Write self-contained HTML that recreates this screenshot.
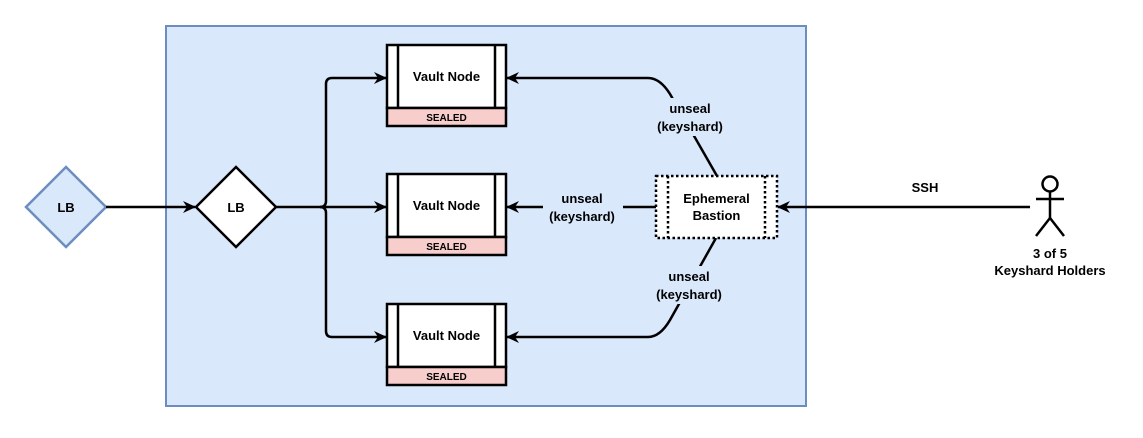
<!DOCTYPE html>
<html><head><style>
body{margin:0;background:#fff}
svg text{font-family:"Liberation Sans",Arial,sans-serif;font-weight:bold;fill:#000}
</style></head><body>
<svg width="1143" height="433" viewBox="0 0 1143 433" xmlns="http://www.w3.org/2000/svg">
<defs>
<marker id="a" markerWidth="14" markerHeight="14" refX="12" refY="6" orient="auto" markerUnits="userSpaceOnUse">
<path d="M0,0 L13,6 L0,12 L4,6 Z" fill="#000"/></marker>
</defs>
<rect x="166" y="26" width="640" height="380" fill="#dae8fc" stroke="#6c8ebf" stroke-width="2"/>
<polygon points="66,167 106,207 66,247 26,207" fill="#dae8fc" stroke="#6c8ebf" stroke-width="2.5"/>
<text x="66" y="212" font-size="13" text-anchor="middle">LB</text>
<line x1="106" y1="207" x2="195" y2="207" stroke="#000" stroke-width="2.5" marker-end="url(#a)"/>
<polygon points="236,167 276,207 236,247 196,207" fill="#fff" stroke="#000" stroke-width="2.5"/>
<text x="236" y="212" font-size="13" text-anchor="middle">LB</text>
<g fill="none" stroke="#000" stroke-width="2.5">
<path d="M276,207 L320,207 Q326,207 326,201 L326,84 Q326,78 332,78 L386,78" marker-end="url(#a)"/>
<path d="M320,207 L386,207" marker-end="url(#a)"/>
<path d="M320,207 Q326,207 326,213 L326,331 Q326,337 332,337 L386,337" marker-end="url(#a)"/>
</g>
<g id="v">
<rect x="387" y="45" width="119" height="63" fill="#fff" stroke="#000" stroke-width="2.5"/>
<line x1="398" y1="45" x2="398" y2="108" stroke="#000" stroke-width="2.5"/>
<line x1="495" y1="45" x2="495" y2="108" stroke="#000" stroke-width="2.5"/>
<rect x="387" y="108" width="119" height="18" fill="#f8cecc" stroke="#000" stroke-width="2.5"/>
<text x="446.5" y="81" font-size="13" text-anchor="middle">Vault Node</text>
<text x="446.5" y="121" font-size="10" text-anchor="middle">SEALED</text>
</g>
<use href="#v" y="129"/>
<use href="#v" y="259"/>
<g fill="none" stroke="#000" stroke-width="2.5">
<path d="M717,176 L670,94 Q660,78 648,78 L507,78" marker-end="url(#a)"/>
<path d="M656,207 L507,207" marker-end="url(#a)"/>
<path d="M716,238 L670,320 Q660,337 648,337 L507,337" marker-end="url(#a)"/>
<path d="M1030,207 L778,207" marker-end="url(#a)"/>
</g>
<rect x="648" y="98" width="84" height="38" fill="#dae8fc"/>
<text x="690" y="113" font-size="13" text-anchor="middle">unseal</text>
<text x="690" y="131" font-size="13" text-anchor="middle">(keyshard)</text>
<rect x="543" y="188" width="80" height="38" fill="#dae8fc"/>
<text x="582" y="203" font-size="13" text-anchor="middle">unseal</text>
<text x="582" y="221" font-size="13" text-anchor="middle">(keyshard)</text>
<rect x="648" y="266" width="84" height="38" fill="#dae8fc"/>
<text x="689" y="281" font-size="13" text-anchor="middle">unseal</text>
<text x="689" y="299" font-size="13" text-anchor="middle">(keyshard)</text>
<rect x="656" y="176" width="121" height="62" fill="#fff" stroke="#000" stroke-width="2.5" stroke-dasharray="2.5,2.5"/>
<line x1="668" y1="176" x2="668" y2="238" stroke="#000" stroke-width="2.5" stroke-dasharray="2.5,2.5"/>
<line x1="765" y1="176" x2="765" y2="238" stroke="#000" stroke-width="2.5" stroke-dasharray="2.5,2.5"/>
<text x="716.5" y="203" font-size="13" text-anchor="middle">Ephemeral</text>
<text x="716.5" y="220" font-size="13" text-anchor="middle">Bastion</text>
<text x="925" y="192" font-size="13" text-anchor="middle">SSH</text>
<g fill="none" stroke="#000" stroke-width="2.5">
<circle cx="1050" cy="184" r="7.5" fill="#fff"/>
<line x1="1050" y1="192" x2="1050" y2="218"/>
<line x1="1036" y1="199" x2="1064" y2="199"/>
<line x1="1050" y1="218" x2="1036" y2="236"/>
<line x1="1050" y1="218" x2="1064" y2="236"/>
</g>
<text x="1050" y="258" font-size="13" text-anchor="middle">3 of 5</text>
<text x="1050" y="275" font-size="13" text-anchor="middle">Keyshard Holders</text>
</svg>
</body></html>
